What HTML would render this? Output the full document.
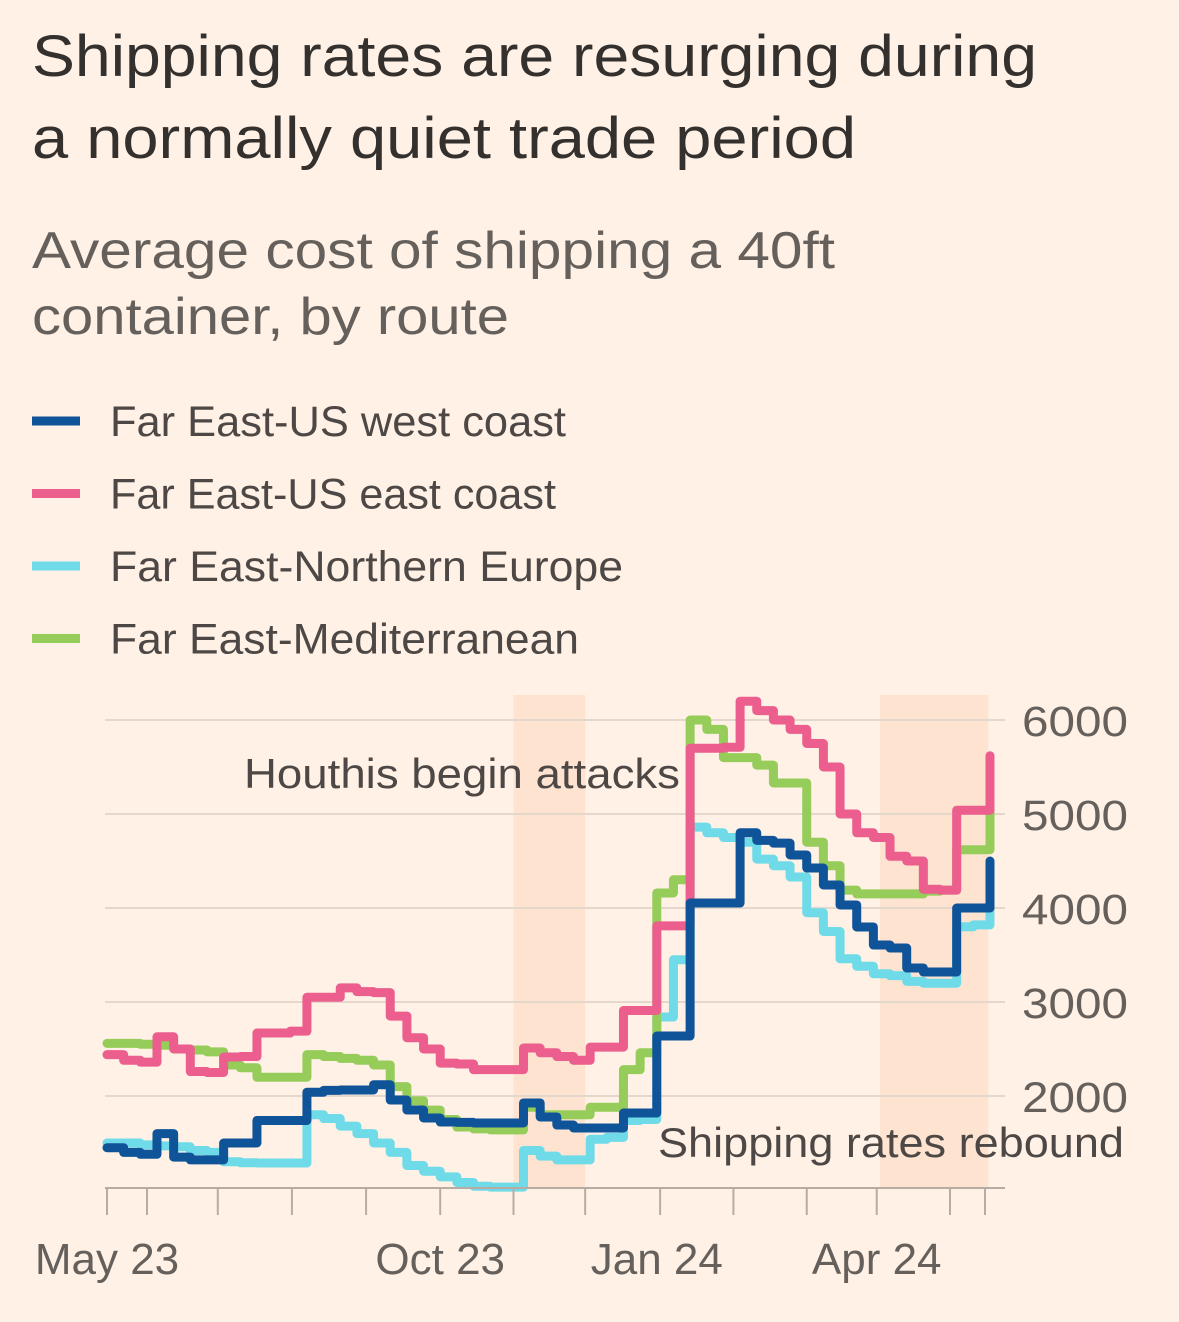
<!DOCTYPE html>
<html><head><meta charset="utf-8"><style>
html,body{margin:0;padding:0;background:#fff1e5;}
svg{display:block;font-family:"Liberation Sans",sans-serif;}
</style></head><body>
<svg id="chart" width="1179" height="1322" viewBox="0 0 1179 1322" xmlns="http://www.w3.org/2000/svg">
<rect width="1179" height="1322" fill="#fff1e5"/>
<text x="32" y="76" font-size="58" fill="#33302e" textLength="1005" lengthAdjust="spacingAndGlyphs">Shipping rates are resurging during</text>
<text x="32" y="158" font-size="58" fill="#33302e" textLength="824" lengthAdjust="spacingAndGlyphs">a normally quiet trade period</text>
<text x="32" y="268" font-size="52" fill="#66605c" textLength="803" lengthAdjust="spacingAndGlyphs">Average cost of shipping a 40ft</text>
<text x="32" y="334" font-size="52" fill="#66605c" textLength="477" lengthAdjust="spacingAndGlyphs">container, by route</text>
<g id="legend"></g>
<g id="bands"></g>
<g id="grid"></g>
<g id="series"></g>
<g id="axes"></g>
<text x="680" y="788" font-size="42" fill="#4d4845" text-anchor="end" textLength="436" lengthAdjust="spacingAndGlyphs">Houthis begin attacks</text>
<text x="658" y="1157" font-size="42" fill="#4d4845" textLength="466" lengthAdjust="spacingAndGlyphs">Shipping rates rebound</text>
</svg>
<script>
const NS="http://www.w3.org/2000/svg";
const seriesNames=["Far East-US west coast","Far East-US east coast","Far East-Northern Europe","Far East-Mediterranean"];
const seriesColors=["#0f5499","#eb5e8d","#6fdbe8","#96cc5a"];
const westCoast=[1450,1400,1380,1600,1350,1320,1320,1500,1500,1740,1740,1740,2040,2060,2064,2064,2120,1957,1851,1766,1723,1720,1713,1713,1713,1926,1777,1691,1660,1660,1660,1819,1819,2638,2638,4053,4053,4053,4800,4720,4690,4564,4425,4245,4032,3798,3606,3574,3362,3319,3319,4000,4000,4500];
const eastCoast=[2440,2380,2360,2630,2500,2260,2250,2415,2420,2670,2670,2690,3050,3050,3150,3110,3100,2850,2620,2500,2350,2340,2280,2280,2280,2510,2460,2420,2380,2520,2520,2910,2910,3810,3810,5700,5700,5710,6200,6100,6000,5900,5750,5500,5000,4800,4750,4550,4500,4200,4190,5040,5040,5620];
const northEurope=[1500,1500,1480,1470,1460,1420,1400,1300,1290,1287,1287,1287,1800,1760,1680,1600,1500,1400,1260,1200,1140,1080,1040,1030,1030,1420,1360,1320,1320,1540,1560,1740,1750,2840,3450,4860,4800,4750,4700,4520,4450,4330,3950,3750,3460,3380,3300,3280,3220,3200,3200,3800,3820,4370];
const mediterranean=[2560,2560,2550,2540,2500,2490,2470,2330,2300,2200,2200,2200,2440,2420,2400,2380,2330,2100,1950,1850,1750,1670,1650,1640,1640,1880,1800,1800,1800,1880,1880,2280,2460,4160,4300,6000,5900,5600,5600,5520,5330,5330,4700,4450,4190,4150,4150,4150,4150,4180,4190,4620,4620,5070];
const yTicks=[2000,3000,4000,5000,6000];
const xTickLabels=["May 23","Oct 23","Jan 24","Apr 24"];
const xTickLabelWeeks=[0,20,33,46.2];
const monthTickWeeks=[0,2.4,6.65,11.1,15.55,20,24.4,28.7,33.2,37.6,42,46.2,50.6,52.7];
const shadedWeeks=[[24.4,28.7],[46.4,52.9]];

const X0=107,X1=990,N=westCoast.length-1;
const x=w=>X0+(X1-X0)*w/N;
const y=v=>1190-(v-1000)*0.094;
function el(tag,attrs,parent){const e=document.createElementNS(NS,tag);for(const k in attrs)e.setAttribute(k,attrs[k]);parent.appendChild(e);return e;}

const legend=document.getElementById('legend');
const legendWidths=[456,446,513,469];
seriesNames.forEach((n,i)=>{
  const yy=421+i*72.5;
  const s=el('line',{x1:32,x2:80,y1:yy,y2:yy,stroke:seriesColors[i],'stroke-width':9},legend);
  
  
  const t=el('text',{x:110,y:yy+15,'font-size':43,fill:'#4d4845',textLength:legendWidths[i],lengthAdjust:'spacingAndGlyphs'},legend);
  t.textContent=n;
  
  
});

const bands=document.getElementById('bands');
shadedWeeks.forEach(b=>{
  const r=el('rect',{x:x(b[0]),y:695,width:x(b[1])-x(b[0]),height:493,fill:'#fde3d0'},bands);
  
  
});

const grid=document.getElementById('grid');
const axes=document.getElementById('axes');
yTicks.forEach(v=>{
  const g=el('line',{x1:105,x2:1005,y1:y(v),y2:y(v),stroke:'#e4d8cd','stroke-width':2},grid);
  
  
  const t=el('text',{x:1022,y:y(v)+16,'font-size':43,fill:'#66605c',textLength:106,lengthAdjust:'spacingAndGlyphs'},axes);
  t.textContent=v;
  
  
});
const ax=el('line',{x1:105,x2:1005,y1:1188,y2:1188,stroke:'#b7aca3','stroke-width':2},axes);


monthTickWeeks.forEach(w=>{
  const t=el('line',{x1:x(w),x2:x(w),y1:1188,y2:1215,stroke:'#b7aca3','stroke-width':2},axes);
  
  
});
xTickLabels.forEach((l,i)=>{
  const t=el('text',{x:x(xTickLabelWeeks[i]),y:1274,'font-size':44,fill:'#66605c','text-anchor':'middle'},axes);
  t.textContent=l;
  
  
});

const seriesG=document.getElementById('series');
const data=[northEurope,mediterranean,eastCoast,westCoast];
const colors=[seriesColors[2],seriesColors[3],seriesColors[1],seriesColors[0]];
const names=['northern-europe-line','mediterranean-line','us-east-coast-line','us-west-coast-line'];
data.forEach((d,i)=>{
  let p='M'+x(0)+','+y(d[0]);
  for(let k=1;k<d.length;k++){p+=' H'+x(k)+' V'+y(d[k]);}
  const path=el('path',{d:p,fill:'none',stroke:colors[i],'stroke-width':9,'stroke-linejoin':'round','stroke-linecap':'round'},seriesG);
  
  
});
</script>
</body></html>
